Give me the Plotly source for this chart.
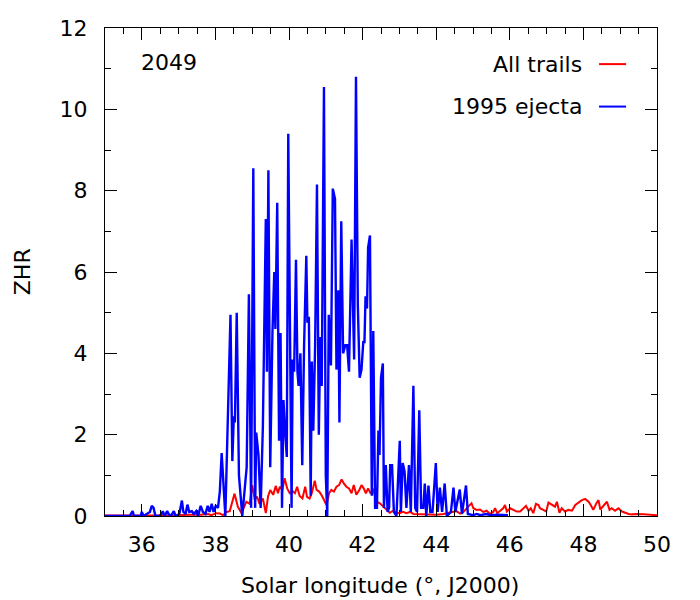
import plotly.graph_objects as go

# "1995 ejecta" (blue) — solar longitude (deg) and ZHR
blue_x = [35.0, 35.67, 35.75, 35.79, 35.97, 36.0, 36.05, 36.22, 36.27, 36.32, 36.37, 36.48, 36.54, 36.57,
          36.62, 36.69, 36.73, 36.79, 36.87, 36.92, 37.02, 37.09, 37.13, 37.19, 37.24, 37.29, 37.36, 37.41,
          37.48, 37.53, 37.60, 37.66, 37.73, 37.79, 37.84, 37.90, 37.95, 38.01, 38.07, 38.12, 38.17, 38.22,
          38.27, 38.41, 38.46, 38.50, 38.53, 38.58, 38.64, 38.73, 38.85, 38.91, 38.97, 39.03, 39.08, 39.11,
          39.17, 39.23, 39.29, 39.37, 39.40, 39.44, 39.49, 39.55, 39.60, 39.63, 39.68, 39.73, 39.77, 39.81,
          39.85, 39.90, 39.94, 39.98, 40.03, 40.07, 40.10, 40.14, 40.19, 40.23, 40.26, 40.31, 40.36, 40.41,
          40.47, 40.50, 40.54, 40.59, 40.62, 40.66, 40.71, 40.76, 40.81, 40.85, 40.89, 40.95, 41.00, 41.04,
          41.08, 41.14, 41.19, 41.25, 41.29, 41.34, 41.37, 41.42, 41.47, 41.53, 41.58, 41.63, 41.70, 41.77,
          41.82, 41.87, 41.92, 41.97, 42.02, 42.05, 42.08, 42.12, 42.15, 42.20, 42.25, 42.29, 42.34, 42.39,
          42.43, 42.46, 42.50, 42.55, 42.58, 42.63, 42.68, 42.72, 42.75, 42.80, 42.85, 42.92, 43.01, 43.04,
          43.09, 43.14, 43.19, 43.26, 43.31, 43.38, 43.43, 43.48, 43.54, 43.59, 43.65, 43.69, 43.73, 43.79,
          43.84, 43.90, 43.99, 44.04, 44.10, 44.16, 44.23, 44.29, 44.40, 44.47, 44.52, 44.64, 44.70, 44.81,
          44.86, 45.0, 45.1, 45.2, 45.35, 45.5, 45.65, 45.8, 45.95]
blue_y = [0, 0, 0.12, 0, 0, 0.1, 0, 0.1, 0.25, 0.2, 0, 0, 0.05, 0.12,
          0, 0.12, 0.05, 0, 0.12, 0, 0.05, 0.38, 0.1, 0.05, 0.28, 0.1, 0.12, 0.05,
          0.12, 0, 0.25, 0.1, 0.05, 0.25, 0.1, 0.3, 0.1, 0.25, 0.2, 0.6, 1.55, 0.6,
          0.0, 4.95, 1.35, 2.45, 2.3, 5.0, 1.0, 0.0, 1.2, 5.45, 0.2, 8.55, 0.2, 2.05,
          1.5, 0.2, 2.2, 7.3, 3.55, 8.5, 1.2, 4.5, 6.0, 4.6, 7.7, 1.85, 4.5, 0.2,
          2.85, 2.0, 1.45, 9.4, 3.0, 0.2, 3.85, 3.55, 6.3, 3.55, 3.2, 4.0, 1.25, 4.2,
          6.4, 4.75, 4.9, 0.5, 3.8, 2.1, 4.2, 8.15, 2.0, 4.4, 3.2, 10.55, 1.0, 0.0,
          4.95, 3.7, 8.05, 7.8, 3.6, 5.55, 2.3, 7.25, 4.0, 4.2, 4.2, 3.55, 6.8, 3.85,
          10.8, 5.2, 3.4, 3.6, 4.3, 4.25, 5.4, 5.1, 6.6, 6.9, 0.5, 4.55, 0.2, 0.2,
          2.1, 1.5, 3.4, 3.75, 0.2, 1.25, 0.1, 0.2, 1.25, 1.25, 0.1, 0.0, 1.85, 0.1,
          1.3, 1.1, 0.2, 1.25, 0.1, 3.2, 0.2, 0.1, 2.6, 0.2, 0.2, 0.8, 0, 0.75,
          0.1, 0.1, 1.3, 0.1, 0.7, 0.1, 0.8, 0.0, 0.1, 0.7, 0.1, 0.65, 0.05, 0.75,
          0.05, 0.02, 0.05, 0.02, 0.05, 0.02, 0.03, 0.02, 0.02]

# "All trails" (red)
red_x = [35.0, 35.5, 36.0, 36.5, 37.0, 37.3, 37.6, 37.8, 37.89, 38.02, 38.12, 38.21, 38.30, 38.39, 38.46,
         38.52, 38.61, 38.71, 38.84, 38.93, 39.00, 39.07, 39.13, 39.20, 39.29, 39.37, 39.43, 39.49, 39.57,
         39.64, 39.70, 39.75, 39.82, 39.88, 39.95, 40.02, 40.09, 40.16, 40.22, 40.29, 40.365, 40.44, 40.49,
         40.56, 40.62, 40.70, 40.75, 40.82, 40.88, 40.945, 41.02, 41.09, 41.15, 41.22, 41.29, 41.36, 41.43,
         41.49, 41.56, 41.63, 41.70, 41.76, 41.83, 41.91, 41.97, 42.03, 42.09, 42.15, 42.21, 42.29, 42.38,
         42.47, 42.56, 42.65, 42.74, 42.83, 42.92, 43.01, 43.10, 43.19, 43.29, 43.38, 43.56, 43.74, 44.0,
         44.2, 44.4, 44.55, 44.65, 44.74, 44.87, 44.96, 45.01, 45.10, 45.19, 45.28, 45.37, 45.46, 45.55,
         45.60, 45.66, 45.73, 45.82, 45.87, 45.92, 46.01, 46.10, 46.19, 46.28, 46.37, 46.44, 46.51, 46.57,
         46.64, 46.71, 46.78, 46.82, 46.91, 46.99, 47.05, 47.14, 47.23, 47.28, 47.35, 47.41, 47.50, 47.59,
         47.69, 47.78, 47.87, 47.96, 48.05, 48.14, 48.20, 48.27, 48.35, 48.41, 48.46, 48.55, 48.64, 48.71,
         48.77, 48.86, 48.95, 49.05, 49.14, 49.23, 49.32, 49.45, 49.64, 49.82, 50.0]
red_y = [0.01, 0.01, 0.01, 0.02, 0.02, 0.03, 0.03, 0.05, 0.02, 0.07, 0.06, 0.02, 0.1, 0.12, 0.35,
         0.55, 0.23, 0.07, 0.35, 0.3, 0.76, 0.4, 0.48, 0.3, 0.43, 0.07, 0.48, 0.64, 0.52,
         0.74, 0.56, 0.72, 0.64, 0.93, 0.68, 0.56, 0.62, 0.56, 0.72, 0.49, 0.43, 0.72, 0.47,
         0.43, 0.56, 0.87, 0.64, 0.6, 0.52, 0.39, 0.27, 0.56, 0.64, 0.6, 0.72, 0.76, 0.9,
         0.8, 0.72, 0.68, 0.56, 0.76, 0.52, 0.64, 0.76, 0.68, 0.56, 0.68, 0.57, 0.64, 0.35,
         0.31, 0.23, 0.15, 0.08, 0.13, 0.08, 0.07, 0.1, 0.07, 0.1, 0.05, 0.04, 0.03, 0.03,
         0.05, 0.08, 0.12, 0.06, 0.1, 0.23, 0.31, 0.19, 0.15, 0.16, 0.1, 0.13, 0.05, 0.1,
         0.19, 0.07, 0.13, 0.19, 0.27, 0.11, 0.19, 0.15, 0.11, 0.11, 0.19, 0.25, 0.13, 0.19,
         0.07, 0.3, 0.27, 0.19, 0.15, 0.11, 0.33, 0.27, 0.23, 0.35, 0.08, 0.19, 0.11, 0.15,
         0.13, 0.27, 0.33, 0.39, 0.42, 0.35, 0.27, 0.15, 0.31, 0.39, 0.16, 0.25, 0.35, 0.15,
         0.19, 0.13, 0.19, 0.11, 0.08, 0.05, 0.04, 0.05, 0.04, 0.03, 0.02]

x_ticks = [36, 38, 40, 42, 44, 46, 48, 50]
y_ticks = [0, 2, 4, 6, 8, 10, 12]
year_label = "2049"
series_names = ["All trails", "1995 ejecta"]
series_colors = ["#ff0000", "#0000ff"]

FONT = "DejaVu Sans"

fig = go.Figure()
fig.add_trace(go.Scatter(x=red_x, y=red_y, mode="lines", name=series_names[0],
                         line=dict(color=series_colors[0], width=2), showlegend=False))
fig.add_trace(go.Scatter(x=blue_x, y=blue_y, mode="lines", name=series_names[1],
                         line=dict(color=series_colors[1], width=2.4), showlegend=False))

axis_common = dict(showgrid=False, zeroline=False, showline=True, linecolor="black", linewidth=1,
                   mirror="allticks", ticks="inside", ticklen=12, tickcolor="black", tickwidth=1,
                   automargin=False,
                   tickfont=dict(family=FONT, size=22, color="black"))

fig.update_xaxes(range=[35, 50], tickvals=x_ticks, ticktext=[str(t) for t in x_ticks],
                 minor=dict(dtick=0.5, tick0=35, ticks="inside", ticklen=6, tickcolor="black"),
                 ticklabelstandoff=9,
                 **axis_common)
fig.update_yaxes(range=[0, 12], tickvals=y_ticks, ticktext=[str(t) for t in y_ticks],
                 minor=dict(dtick=1, tick0=0, ticks="inside", ticklen=6, tickcolor="black"),
                 ticklabelstandoff=12,
                 **axis_common)

# axis titles
fig.add_annotation(x=0.499, y=-0.143, xref="paper", yref="paper", text="Solar longitude (°, J2000)",
                   showarrow=False, xanchor="center", yanchor="middle",
                   font=dict(family=FONT, size=22, color="black"))
fig.add_annotation(x=-0.150, y=0.5, xref="paper", yref="paper", text="ZHR", textangle=-90,
                   showarrow=False, xanchor="center", yanchor="middle",
                   font=dict(family=FONT, size=22, color="black"))

fig.add_annotation(x=0.062, y=0.93, xref="paper", yref="paper", text=year_label, showarrow=False,
                   xanchor="left", yanchor="middle", font=dict(family=FONT, size=22, color="black"))

for i, (nm, col) in enumerate(zip(series_names, series_colors)):
    yy = 0.926 - i * 0.087
    fig.add_annotation(x=0.868, y=yy, xref="paper", yref="paper", text=nm, showarrow=False,
                       xanchor="right", yanchor="middle", font=dict(family=FONT, size=22, color="black"))
    fig.add_shape(type="line", xref="paper", yref="paper", x0=0.895, x1=0.944, y0=yy, y1=yy,
                  line=dict(color=col, width=2))

fig.update_layout(width=700, height=600, plot_bgcolor="white", paper_bgcolor="white",
                  margin=dict(l=105, r=43, t=28, b=84), font=dict(family=FONT, size=22, color="black"))

fig.write_html("out.html", config={"displayModeBar": False},
               post_script="document.body.style.margin='0px';")
